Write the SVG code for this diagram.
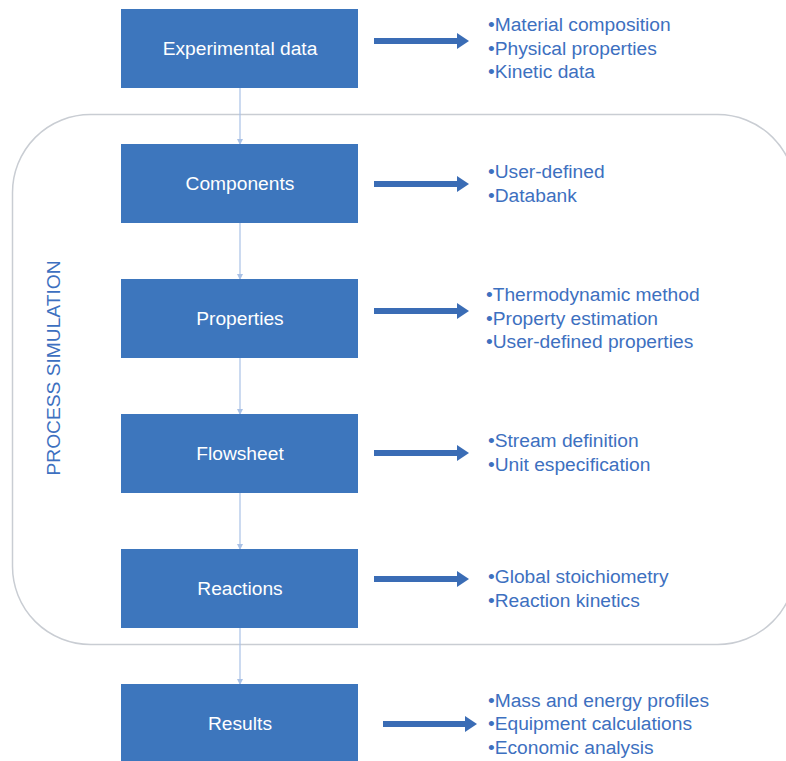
<svg xmlns="http://www.w3.org/2000/svg" width="786" height="761" viewBox="0 0 786 761">
<style>
.box{fill:#3d76bd}
.bt{font-family:"Liberation Sans",Arial,sans-serif;font-size:19.2px;fill:#ffffff;text-anchor:middle}
.lt{font-family:"Liberation Sans",Arial,sans-serif;font-size:19.2px;fill:#3d70c0}
.conn{stroke:#a9c1e6;stroke-width:1.2;fill:none}
.big{stroke:#3a6cb5;stroke-width:6;fill:none}
</style>
<defs>
<marker id="sa" markerUnits="userSpaceOnUse" markerWidth="6" markerHeight="6" refX="5" refY="3" orient="auto"><path d="M0,0 L6,3 L0,6 z" fill="#a9c1e6"/></marker>
<marker id="ba" markerUnits="userSpaceOnUse" markerWidth="12" markerHeight="16" refX="1" refY="8" orient="auto"><path d="M0,0 L12,8 L0,16 z" fill="#3a6cb5"/></marker>
</defs>
<rect id="process-simulation" x="12.5" y="114.5" width="783" height="530" rx="78" ry="78" fill="none" stroke="#c9cdd3" stroke-width="1.5"/>
<text class="lt" transform="translate(59.5,368) rotate(-90)" text-anchor="middle">PROCESS SIMULATION</text>
<g id="connectors">
<line class="conn" x1="240" y1="88" x2="240" y2="144" marker-end="url(#sa)"/>
<line class="conn" x1="240" y1="223" x2="240" y2="279" marker-end="url(#sa)"/>
<line class="conn" x1="240" y1="358" x2="240" y2="414" marker-end="url(#sa)"/>
<line class="conn" x1="240" y1="493" x2="240" y2="549" marker-end="url(#sa)"/>
<line class="conn" x1="240" y1="628" x2="240" y2="684" marker-end="url(#sa)"/>
<line class="big" x1="374" y1="41" x2="458" y2="41" marker-end="url(#ba)"/>
<line class="big" x1="374" y1="184" x2="458" y2="184" marker-end="url(#ba)"/>
<line class="big" x1="374" y1="311" x2="458" y2="311" marker-end="url(#ba)"/>
<line class="big" x1="374" y1="453" x2="458" y2="453" marker-end="url(#ba)"/>
<line class="big" x1="374" y1="579" x2="458" y2="579" marker-end="url(#ba)"/>
<line class="big" x1="383" y1="724" x2="466" y2="724" marker-end="url(#ba)"/>
</g>
<g id="experimental-data">
<rect class="box" x="121" y="9" width="237" height="79"/>
<text class="bt" x="240" y="55">Experimental data</text>
<text class="lt" x="488" y="31">•Material composition</text>
<text class="lt" x="488" y="54.5">•Physical properties</text>
<text class="lt" x="488" y="78">•Kinetic data</text>
</g>
<g id="components">
<rect class="box" x="121" y="144" width="237" height="79"/>
<text class="bt" x="240" y="190">Components</text>
<text class="lt" x="488" y="178">•User-defined</text>
<text class="lt" x="488" y="201.5">•Databank</text>
</g>
<g id="properties">
<rect class="box" x="121" y="279" width="237" height="79"/>
<text class="bt" x="240" y="325">Properties</text>
<text class="lt" x="486" y="301">•Thermodynamic method</text>
<text class="lt" x="486" y="324.5">•Property estimation</text>
<text class="lt" x="486" y="348">•User-defined properties</text>
</g>
<g id="flowsheet">
<rect class="box" x="121" y="414" width="237" height="79"/>
<text class="bt" x="240" y="460">Flowsheet</text>
<text class="lt" x="488" y="447">•Stream definition</text>
<text class="lt" x="488" y="471">•Unit especification</text>
</g>
<g id="reactions">
<rect class="box" x="121" y="549" width="237" height="79"/>
<text class="bt" x="240" y="595">Reactions</text>
<text class="lt" x="488" y="583">•Global stoichiometry</text>
<text class="lt" x="488" y="606.5">•Reaction kinetics</text>
</g>
<g id="results">
<rect class="box" x="121" y="684" width="237" height="79"/>
<text class="bt" x="240" y="730">Results</text>
<text class="lt" x="488" y="707">•Mass and energy profiles</text>
<text class="lt" x="488" y="730">•Equipment calculations</text>
<text class="lt" x="488" y="753.5">•Economic analysis</text>
</g>
</svg>
